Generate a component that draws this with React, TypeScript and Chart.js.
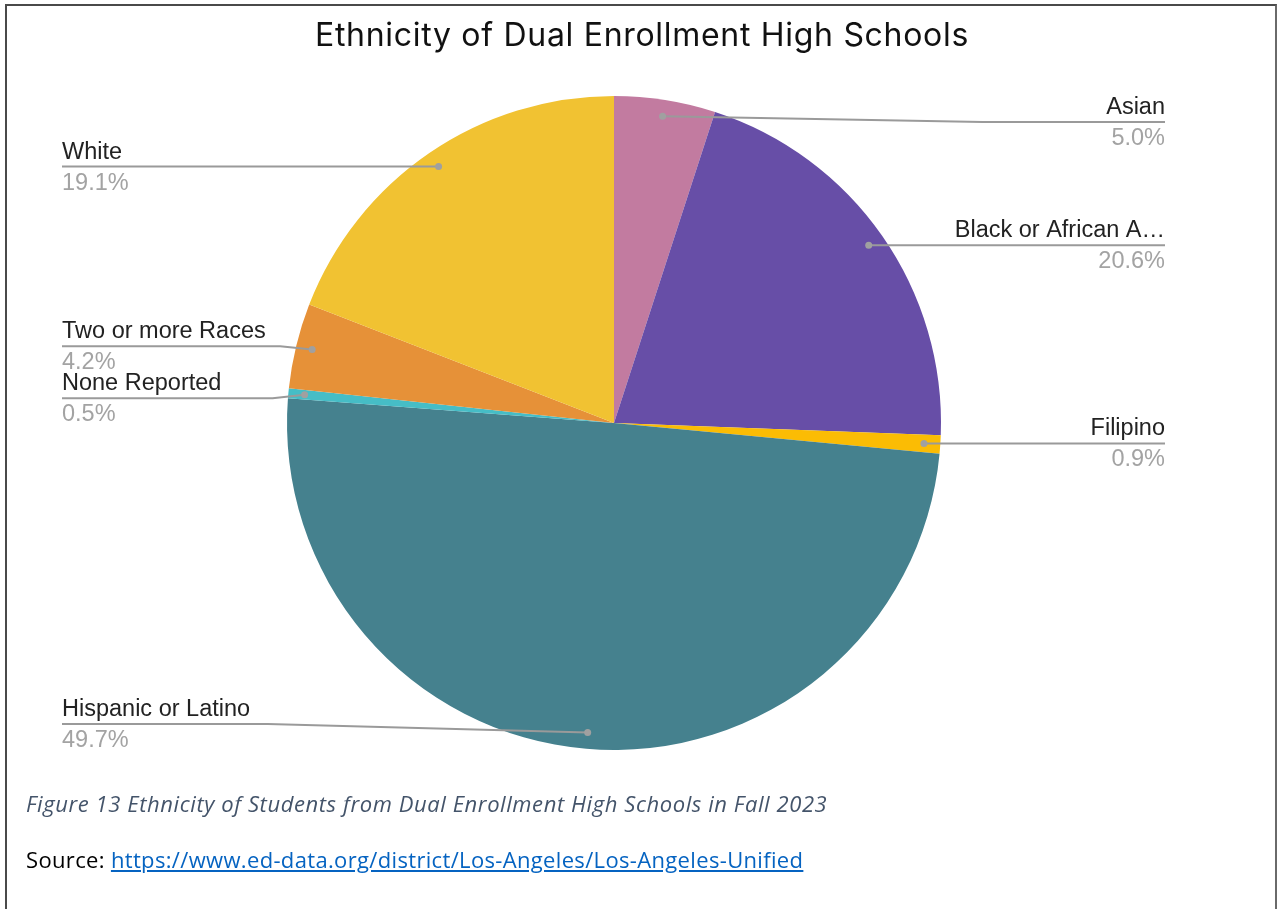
import React, { useEffect, useRef } from "react";
import { Chart, registerables } from "chart.js";

Chart.register(...registerables);

const categories = [
  "Asian",
  "Black or African A…",
  "Filipino",
  "Hispanic or Latino",
  "None Reported",
  "Two or more Races",
  "White",
];
const percentages = [5.0, 20.6, 0.9, 49.7, 0.5, 4.2, 19.1];
const sliceColors = ["#c27ba0", "#674ea7", "#fbbc04", "#45818e", "#46bdc6", "#e69138", "#f1c232"];

const TITLE = "Ethnicity of Dual Enrollment High Schools";
const CAPTION = "Figure 13 Ethnicity of Students from Dual Enrollment High Schools in Fall 2023";
const SOURCE_URL = "https://www.ed-data.org/district/Los-Angeles/Los-Angeles-Unified";

const LABEL_FONT = '23.5px "Liberation Sans", Arial, sans-serif';

const leaderPlugin = {
  id: "leaderLabels",
  afterDatasetsDraw(chart: any) {
    const ctx = chart.ctx as CanvasRenderingContext2D;
    const meta = chart.getDatasetMeta(0);
    const ds = chart.data.datasets[0];
    type Item = { i: number; x: number; y: number; ly: number; right: boolean };
    const items: Item[] = [];
    meta.data.forEach((arc: any, i: number) => {
      const mid = (arc.startAngle + arc.endAngle) / 2;
      const r = arc.outerRadius * 0.95;
      const x = arc.x + Math.cos(mid) * r;
      const y = arc.y + Math.sin(mid) * r;
      items.push({ i, x, y, ly: y, right: x >= arc.x });
    });
    const minGap = 52;
    const minY = 122;
    const maxY = 724;
    [true, false].forEach((side) => {
      const s = items.filter((it) => it.right === side).sort((a, b) => a.y - b.y);
      s.forEach((it) => (it.ly = Math.min(maxY, Math.max(minY, it.y))));
      for (let iter = 0; iter < 20; iter++) {
        let moved = false;
        for (let k = 1; k < s.length; k++) {
          const d = s[k].ly - s[k - 1].ly;
          if (d < minGap) {
            const push = (minGap - d) / 2;
            s[k - 1].ly -= push;
            s[k].ly += push;
            moved = true;
          }
        }
        if (!moved) break;
      }
    });
    const leftX = 62;
    const rightX = 1165;
    ctx.save();
    items.forEach((it) => {
      const edge = it.right ? rightX : leftX;
      const dy = Math.abs(it.ly - it.y);
      const dir = it.right ? 1 : -1;
      const elbowX = it.x + dir * (dy < 0.5 ? 0 : dy > 4.5 ? 320 : 32);
      ctx.strokeStyle = "#9a9a9a";
      ctx.lineWidth = 2;
      ctx.beginPath();
      ctx.moveTo(it.x, it.y);
      ctx.lineTo(elbowX, it.ly);
      ctx.lineTo(edge, it.ly);
      ctx.stroke();
      ctx.fillStyle = "#a0a0a0";
      ctx.beginPath();
      ctx.arc(it.x, it.y, 3.5, 0, Math.PI * 2);
      ctx.fill();
      ctx.font = LABEL_FONT;
      ctx.textAlign = it.right ? "right" : "left";
      ctx.textBaseline = "alphabetic";
      ctx.fillStyle = "#222222";
      ctx.fillText(String(chart.data.labels[it.i]), edge, it.ly - 8);
      ctx.fillStyle = "#a3a3a3";
      ctx.fillText(Number(ds.data[it.i]).toFixed(1) + "%", edge, it.ly + 23);
    });
    ctx.restore();
  },
};

export default function App() {
  const ref = useRef<HTMLCanvasElement | null>(null);
  useEffect(() => {
    document.body.style.margin = "0";
    const chart = new Chart(ref.current as HTMLCanvasElement, {
      type: "pie",
      data: {
        labels: categories,
        datasets: [
          {
            data: percentages,
            backgroundColor: sliceColors,
            borderWidth: 0,
          },
        ],
      },
      options: {
        animation: false,
        responsive: false,
        maintainAspectRatio: false,
        layout: { padding: { top: 96, bottom: 159, left: 287, right: 336 } },
        plugins: {
          legend: { display: false },
          tooltip: { enabled: false },
          title: { display: false },
        },
      },
      plugins: [leaderPlugin],
    });
    return () => chart.destroy();
  }, []);

  return (
    <div style={{ position: "fixed", left: 0, top: 0, width: 1277, height: 909, background: "#fff", overflow: "hidden" }}>
      <div
        style={{
          position: "absolute",
          left: 5,
          top: 4,
          width: 1272,
          height: 920,
          borderTop: "2px solid #4a4a4a",
          borderLeft: "2px solid #4a4a4a",
          borderRight: "2px solid #6a6a6a",
          boxSizing: "border-box",
        }}
      />
      <canvas ref={ref} width={1277} height={909} style={{ position: "absolute", left: 0, top: 0 }} />
      <div
        style={{
          position: "absolute",
          left: 0,
          width: 1284,
          top: 15,
          textAlign: "center",
          fontFamily: "Inter, sans-serif",
          fontSize: 32,
          letterSpacing: 0.7,
          lineHeight: "normal",
          color: "#111",
          whiteSpace: "nowrap",
        }}
      >
        {TITLE}
      </div>
      <div
        style={{
          position: "absolute",
          left: 26,
          top: 788,
          fontFamily: '"Open Sans", sans-serif',
          fontStyle: "italic",
          fontSize: 22,
          letterSpacing: 0.58,
          lineHeight: "normal",
          color: "#44546a",
          whiteSpace: "nowrap",
        }}
      >
        {CAPTION}
      </div>
      <div
        style={{
          position: "absolute",
          left: 26,
          top: 844,
          fontFamily: '"Open Sans", sans-serif',
          fontSize: 22,
          letterSpacing: 0.34,
          lineHeight: "normal",
          color: "#000",
          whiteSpace: "nowrap",
        }}
      >
        Source:{" "}
        <a href={SOURCE_URL} style={{ color: "#0563c1", textDecoration: "underline" }}>
          {SOURCE_URL}
        </a>
      </div>
    </div>
  );
}
